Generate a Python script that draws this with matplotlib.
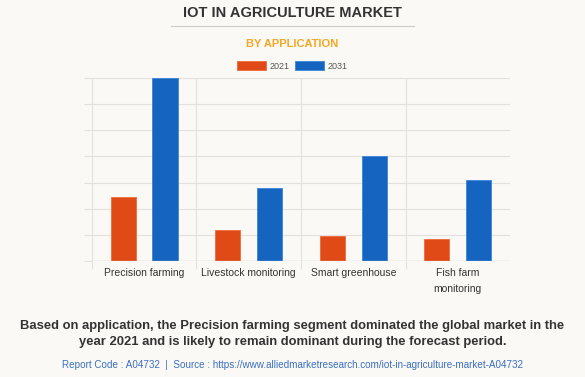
import matplotlib.pyplot as plt
import numpy as np

# data (relative values, no axis labels in source)
categories = ['Precision farming', 'Livestock monitoring', 'Smart greenhouse', 'Fish farm\nmonitoring']
vals_2021 = [2.46, 1.17, 0.94, 0.83]
vals_2031 = [7.0, 2.78, 4.03, 3.10]
years = ['2021', '2031']

bg = '#faf9f5'
orange = '#e04a17'
blue = '#1565c0'
grid_c = '#e3e1dc'

plt.rcParams['font.family'] = ['Liberation Sans', 'DejaVu Sans']

fig = plt.figure(figsize=(5.85, 3.77), dpi=100, facecolor=bg)
ax = fig.add_axes([0.157, 0.3077, 0.715, 0.4853], facecolor=bg)

x = np.arange(len(categories))
w = 0.24
ax.bar(x - 0.2, vals_2021, w, color=orange, label=years[0], zorder=3,
       edgecolor='#f06a3a', linewidth=0.6)
ax.bar(x + 0.2, vals_2031, w, color=blue, label=years[1], zorder=3,
       edgecolor='#3a85d8', linewidth=0.6)

ax.set_xlim(-0.5, 3.5)
ax.set_ylim(0, 7)
ax.set_yticks(np.arange(0, 8, 1))
ax.set_yticklabels([])
ax.set_xticks(np.arange(-0.5, 3.0, 1), minor=False)
ax.set_xticklabels([])
ax.set_xticks(x, minor=True)
ax.set_xticklabels(categories, minor=True, fontsize=7.5, color='#333333',
                   linespacing=1.7)
ax.tick_params(axis='x', which='minor', length=0, pad=5)
ax.tick_params(axis='x', which='major', length=6, color=grid_c, width=0.8)
ax.tick_params(axis='y', length=6, color=grid_c, width=0.8)
ax.grid(True, which='major', color=grid_c, linewidth=0.8, zorder=0)
for s in ax.spines.values():
    s.set_visible(False)
ax.axhline(0, color='#cfcdc8', linewidth=0.9, zorder=4)

# titles
fig.text(0.5, 0.965, 'IOT IN AGRICULTURE MARKET', ha='center', va='center',
         fontsize=10.5, fontweight='bold', color='#333333')
fig.add_artist(plt.Line2D([171 / 585, 414 / 585], [1 - 26 / 377] * 2,
                          color='#cccccc', linewidth=0.8))
fig.text(0.5, 1 - 44 / 377, 'BY APPLICATION', ha='center', va='center',
         fontsize=8, fontweight='bold', color='#f5a623')

fig.legend(loc='center', bbox_to_anchor=(0.5, 1 - 66 / 377), ncol=2,
           frameon=False, fontsize=6.5, handlelength=3.2, handleheight=1.1,
           columnspacing=0.6, handletextpad=0.4, labelcolor='#555555')

fig.text(0.5, 1 - 334 / 377,
         'Based on application, the Precision farming segment dominated the global market in the\n'
         'year 2021 and is likely to remain dominant during the forecast period.',
         ha='center', va='center', fontsize=9.4, fontweight='bold', color='#333333',
         linespacing=1.35)
fig.text(0.5, 1 - 365 / 377,
         'Report Code : A04732  |  Source : https://www.alliedmarketresearch.com/iot-in-agriculture-market-A04732',
         ha='center', va='center', fontsize=7.1, color='#3a6fc0')

fig.savefig('out.png', dpi=100, facecolor=bg)
